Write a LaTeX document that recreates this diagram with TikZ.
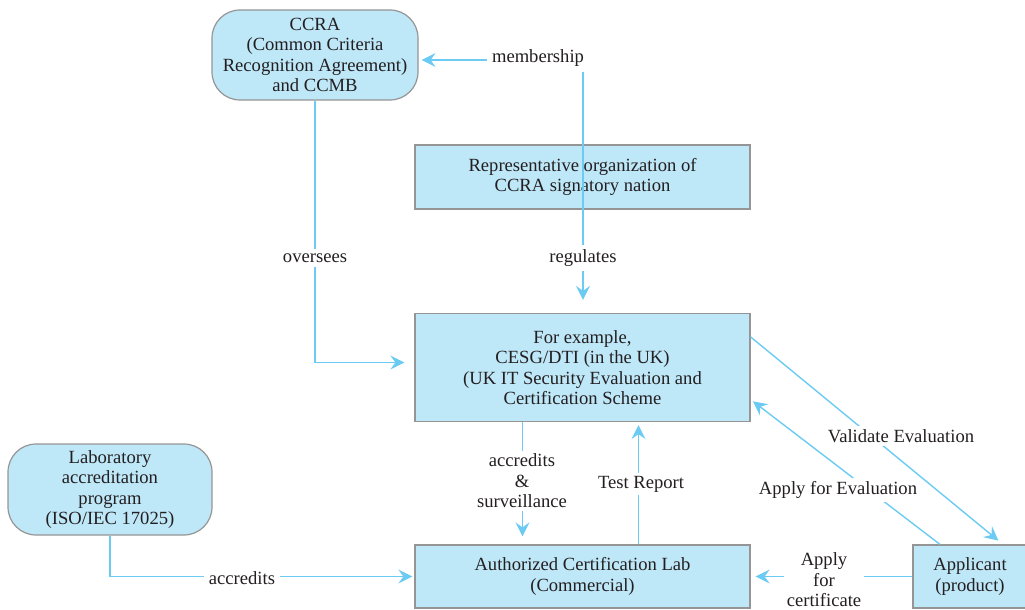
\documentclass[tikz,border=0pt]{standalone}
\usepackage{fontspec}
\setmainfont{Liberation Serif}
\usetikzlibrary{arrows.meta}

\definecolor{boxfill}{HTML}{BEE7F8}
\definecolor{boxline}{HTML}{959595}
\definecolor{linkblue}{HTML}{6CCBF2}
\definecolor{txt}{HTML}{231F20}

\tikzset{
  box/.style={draw=boxline,fill=boxfill,line width=1.2pt,text=txt,align=center,inner sep=0pt},
  roundbox/.style={box,rounded corners=28pt},
  link/.style={draw=linkblue,line width=1.4pt,-{Stealth[length=14pt,width=14pt,inset=5pt]}},
  lbl/.style={fill=white,text=txt,align=center,inner sep=5pt}
}

\begin{document}
\begin{tikzpicture}[x=1pt,y=-1pt,every node/.style={font=\fontsize{18.6}{20.5}\selectfont}]

  \pgfmathsetmacro\midx{582.5}   % centre of the middle column
  \useasboundingbox (0,0) rectangle (1025,610);

% boxes
  \node[roundbox,minimum width=206,minimum height=90] (ccra) at (315,55)
       {CCRA\\(Common Criteria\\Recognition Agreement)\\and CCMB};
  \node[box,minimum width=335,minimum height=64] (rep) at (\midx,177)
       {Representative organization of\\CCRA signatory nation};
  \node[box,minimum width=335,minimum height=108] (cesg) at (\midx,367.5)
       {For example,\\CESG/DTI (in the UK)\\(UK IT Security Evaluation and\\Certification Scheme};
  \node[roundbox,minimum width=204,minimum height=91] (lab) at (110,489.5)
       {Laboratory\\accreditation\\program\\(ISO/IEC 17025)};
  \node[box,minimum width=335,minimum height=63] (acl) at (\midx,576.5)
       {Authorized Certification Lab\\(Commercial)};
  \node[box,minimum width=114,minimum height=63] (app) at (970,576.5)
       {Applicant\\(product)};

% membership / regulates
  \node[lbl] (memb) at (538,58) {membership};
  \coordinate (mcorner) at (583,60);
  \draw[link,shorten >=3pt] (memb.west |- mcorner) -- (ccra.east |- mcorner);
  \draw[link,shorten >=13pt] (memb.south -| mcorner) -- (cesg.north -| mcorner);
  \node[lbl] (regl) at (583,258) {regulates};

% oversees
  \draw[link,shorten >=10pt] (ccra.south) |- ([yshift=5pt]cesg.west);
  \node[lbl] (over) at (315,258) {oversees};

% lab <-> scheme
  \draw[link,shorten >=8pt] ([xshift=-60pt]cesg.south) -- ([xshift=-60pt]acl.north);
  \node[lbl,inner sep=3pt] (accsurv) at (522,481) {accredits\\\&\\surveillance};
  \draw[link,shorten >=3pt] ([xshift=56pt]acl.north) -- ([xshift=56pt]cesg.south);
  \node[lbl,inner sep=3pt] (test) at (641,484) {Test Report};

% accreditation program
  \draw[link,shorten >=2pt] (lab.south) |- (acl.west);
  \node[lbl] (accr) at (242,578) {accredits};

% applicant
  \draw[link,shorten >=5pt] (app.west) -- (acl.east);
  \node[lbl,inner sep=3pt] (cert) at (824,580) {Apply\\for\\certificate};
  \draw[link,shorten >=6pt] ([yshift=-24pt]cesg.north east) -- ([xshift=33pt]app.north);
  \node[lbl,inner sep=3pt] (valid) at (901,436) {Validate Evaluation};
  \draw[link,shorten >=3pt] ([xshift=-30pt]app.north) -- ([yshift=-32pt]cesg.east);
  \node[lbl,inner sep=3pt] (apply) at (838,490) {Apply for Evaluation};

\end{tikzpicture}
\end{document}
